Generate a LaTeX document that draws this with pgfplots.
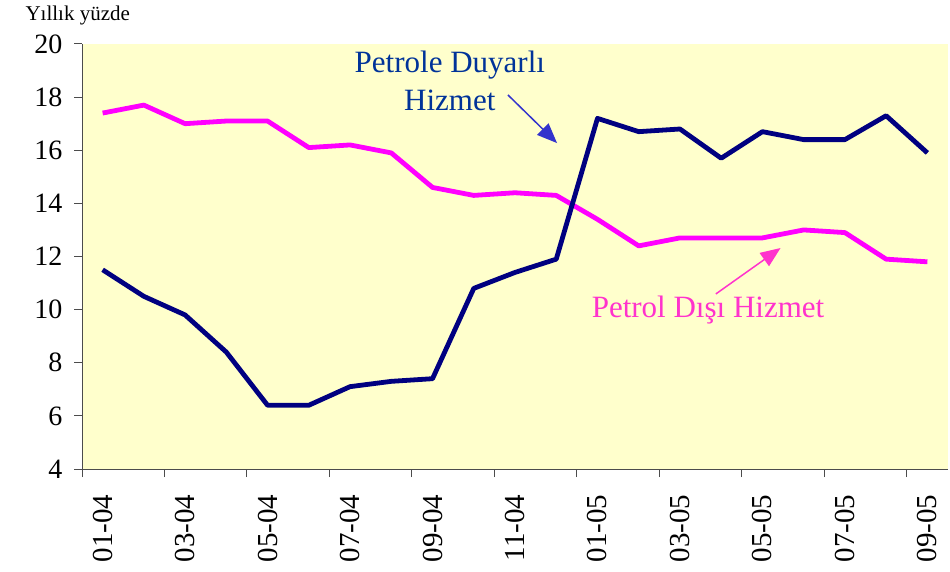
\documentclass[border=0pt]{standalone}
\usepackage{fontspec}
\setmainfont{Liberation Serif}
\usepackage{pgfplots}
\pgfplotsset{compat=1.18}
\usetikzlibrary{arrows.meta}
\definecolor{bgyellow}{RGB}{255,255,204}
\definecolor{navyline}{RGB}{0,0,128}
\definecolor{pinkline}{RGB}{255,0,255}
\definecolor{annblue}{RGB}{0,51,153}
\definecolor{annarrow}{RGB}{51,51,204}
\definecolor{annpink}{RGB}{255,51,204}
\begin{document}
\begin{tikzpicture}
\path[use as bounding box] (0,0) rectangle (950pt,571pt);
\node[anchor=base west, font=\fontsize{21}{21}\selectfont] at (22pt,550pt) {Yıllık yüzde};
\begin{axis}[
  at={(82pt,102pt)}, anchor=south west,
  scale only axis, width=866pt, height=425pt,
  xmin=-0.5, xmax=20.5, ymin=4, ymax=20,
  axis lines*=left,
  axis line style={draw=black!70, line width=1pt},
  axis background/.style={fill=bgyellow},
  ytick={4,6,...,20},
  xtick={-0.5,1.5,...,19.5}, xticklabels={},
  extra x ticks={0,2,...,20},
  extra x tick labels={01-04,03-04,05-04,07-04,09-04,11-04,01-05,03-05,05-05,07-05,09-05},
  extra x tick style={major tick length=0pt, tick style={draw=none},
     xticklabel style={yshift=-22pt, rotate=90, anchor=east, font=\rmfamily\fontsize{29}{29}\selectfont}},
  tick align=outside, major tick length=8pt,
  tick style={draw=black!70, line width=1pt},
  yticklabel style={xshift=-8pt, font=\rmfamily\fontsize{28}{28}\selectfont},
  /pgf/number format/assume math mode=true,
  clip=false,
]
\addplot[pinkline, line width=4.8pt, line join=round] coordinates {
(0,17.4) (1,17.7) (2,17.0) (3,17.1) (4,17.1) (5,16.1) (6,16.2) (7,15.9) (8,14.6) (9,14.3)
(10,14.4) (11,14.3) (12,13.4) (13,12.4) (14,12.7) (15,12.7) (16,12.7) (17,13.0) (18,12.9) (19,11.9) (20,11.8)};
\addplot[navyline, line width=4.8pt, line join=round] coordinates {
(0,11.5) (1,10.5) (2,9.8) (3,8.4) (4,6.4) (5,6.4) (6,7.1) (7,7.3) (8,7.4) (9,10.8)
(10,11.4) (11,11.9) (12,17.2) (13,16.7) (14,16.8) (15,15.7) (16,16.7) (17,16.4) (18,16.4) (19,17.3) (20,15.9)};
\node[font=\fontsize{31}{38}\selectfont, text=annblue, align=center] at (axis cs:8.42,18.6) {Petrole Duyarlı\\Hizmet};
\draw[-{Triangle[length=20pt,width=16pt]}, annarrow, line width=1.5pt] (axis cs:9.83,18.08) -- (axis cs:11.02,16.27);
\node[font=\fontsize{31}{38}\selectfont, text=annpink] at (axis cs:14.68,9.99) {Petrol Dışı Hizmet};
\draw[-{Triangle[length=20pt,width=16pt]}, annpink, line width=1.5pt] (axis cs:14.87,10.59) -- (axis cs:16.44,12.32);
\end{axis}
\end{tikzpicture}
\end{document}
